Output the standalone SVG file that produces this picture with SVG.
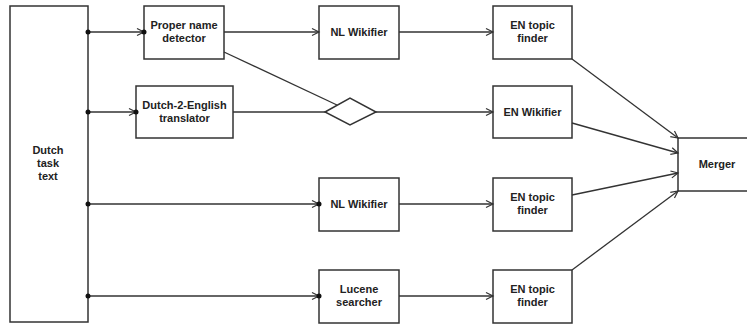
<svg xmlns="http://www.w3.org/2000/svg" width="747" height="325" viewBox="0 0 747 325">
<style>
.box{fill:#fff;stroke:#333;stroke-width:1.5}
.ln{fill:none;stroke:#333;stroke-width:1.3}
.dot{fill:#111}
text{font-family:"Liberation Sans",Arial,sans-serif;font-weight:bold;font-size:11px;fill:#222;text-anchor:middle}
</style>
<defs>
<marker id="arr" markerUnits="userSpaceOnUse" markerWidth="10" markerHeight="10" refX="8" refY="5" orient="auto">
<path d="M1,1.5 L8,5 L1,8.5" fill="none" stroke="#333" stroke-width="1.2"/>
</marker>
</defs>
<rect width="747" height="325" fill="#fff"/>
<g id="dutch-task-text"><rect class="box" x="10" y="6" width="78" height="316"/><text x="48" y="154">Dutch</text><text x="48" y="167">task</text><text x="48" y="180">text</text></g>
<g id="proper-name-detector"><rect class="box" x="144" y="6" width="80" height="53"/><text x="184" y="29">Proper name</text><text x="184" y="42">detector</text></g>
<g id="translator"><rect class="box" x="136" y="86" width="97" height="52"/><text x="184.500" y="109">Dutch-2-English</text><text x="184.500" y="122">translator</text></g>
<g id="nl-wikifier-1"><rect class="box" x="319" y="6" width="80" height="53"/><text x="359" y="36">NL Wikifier</text></g>
<g id="diamond"><polygon class="box" points="325,112 350,98 376,112 350,125"/></g>
<g id="en-topic-finder-1"><rect class="box" x="493" y="6" width="79" height="53"/><text x="532.500" y="29">EN topic</text><text x="532.500" y="42">finder</text></g>
<g id="en-wikifier"><rect class="box" x="493" y="86" width="79" height="52"/><text x="532.500" y="116">EN Wikifier</text></g>
<g id="nl-wikifier-2"><rect class="box" x="319" y="178" width="80" height="53"/><text x="359" y="208">NL Wikifier</text></g>
<g id="en-topic-finder-2"><rect class="box" x="493" y="178" width="79" height="53"/><text x="532.500" y="201">EN topic</text><text x="532.500" y="214">finder</text></g>
<g id="lucene-searcher"><rect class="box" x="319" y="270" width="80" height="53"/><text x="359" y="293">Lucene</text><text x="359" y="306">searcher</text></g>
<g id="en-topic-finder-3"><rect class="box" x="493" y="270" width="79" height="53"/><text x="532.500" y="293">EN topic</text><text x="532.500" y="306">finder</text></g>
<g id="merger"><rect class="box" x="678" y="138" width="80" height="53"/><text x="717" y="168">Merger</text></g>
<g id="connectors">
<line class="ln" x1="88" y1="32" x2="144" y2="32" marker-end="url(#arr)"/>
<line class="ln" x1="88" y1="112" x2="136" y2="112" marker-end="url(#arr)"/>
<line class="ln" x1="88" y1="204" x2="319" y2="204" marker-end="url(#arr)"/>
<line class="ln" x1="88" y1="296" x2="319" y2="296" marker-end="url(#arr)"/>
<circle class="dot" cx="88" cy="32" r="2.5"/><circle class="dot" cx="144" cy="32" r="2.5"/>
<circle class="dot" cx="88" cy="112" r="2.5"/><circle class="dot" cx="136" cy="112" r="2.5"/>
<circle class="dot" cx="88" cy="204" r="2.5"/><circle class="dot" cx="319" cy="204" r="2.5"/>
<circle class="dot" cx="88" cy="296" r="2.5"/><circle class="dot" cx="319" cy="296" r="2.5"/>
<line class="ln" x1="224" y1="32" x2="319" y2="32" marker-end="url(#arr)"/>
<line class="ln" x1="224" y1="52" x2="337" y2="105"/>
<line class="ln" x1="233" y1="112" x2="325" y2="112"/>
<line class="ln" x1="376" y1="112" x2="493" y2="112" marker-end="url(#arr)"/>
<line class="ln" x1="399" y1="32" x2="493" y2="32" marker-end="url(#arr)"/>
<line class="ln" x1="399" y1="204" x2="493" y2="204" marker-end="url(#arr)"/>
<line class="ln" x1="399" y1="296" x2="493" y2="296" marker-end="url(#arr)"/>
<line class="ln" x1="572" y1="59" x2="678" y2="138" marker-end="url(#arr)"/>
<line class="ln" x1="572" y1="123" x2="678" y2="153" marker-end="url(#arr)"/>
<line class="ln" x1="572" y1="195" x2="678" y2="173" marker-end="url(#arr)"/>
<line class="ln" x1="572" y1="270" x2="678" y2="191" marker-end="url(#arr)"/>
</g>
</svg>
